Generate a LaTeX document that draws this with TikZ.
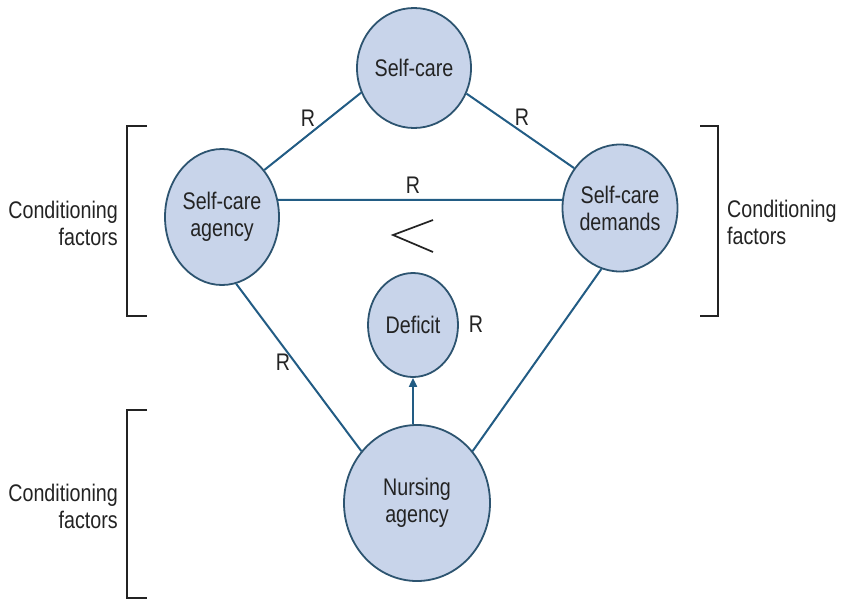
\documentclass[tikz,border=0pt]{standalone}
\usepackage{fontspec}
\setmainfont{Liberation Sans}[FakeStretch=0.82]
\usetikzlibrary{shapes.geometric,arrows.meta}
\definecolor{bubble}{RGB}{200,212,234}
\definecolor{rim}{RGB}{45,84,112}
\definecolor{link}{RGB}{34,92,132}
\definecolor{ink}{RGB}{35,35,35}
\begin{document}
\begin{tikzpicture}[x=1pt,y=-1pt,
  concept/.style={ellipse,draw=rim,line width=1.8pt,fill=bubble,inner sep=0pt,
    text=ink,align=center,font=\fontsize{24}{27}\selectfont},
  rel/.style={draw=link,line width=2pt},
  lbl/.style={text=ink,font=\fontsize{24}{27}\selectfont,inner sep=0pt},
  factor/.style={text=ink,font=\fontsize{24}{27}\selectfont,inner sep=0pt},
  brace/.style={draw=ink,line width=2.4pt}]
\useasboundingbox (0,0) rectangle (845,600);

% concepts
\node[concept,minimum width=114pt,minimum height=120pt] (selfcare) at (414,68) {Self-care};
\node[concept,minimum width=114pt,minimum height=136pt] (agency) at (222,217) {Self-care\\agency};
\node[concept,minimum width=115pt,minimum height=127pt] (demands) at (620,208) {Self-care\\demands};
\node[concept,minimum width=90pt,minimum height=104pt] (deficit) at (413,325) {Deficit};
\node[concept,minimum width=146pt,minimum height=156pt] (nursing) at (417,503) {Nursing\\agency};

% relations
\draw[rel] (agency.48) -- (selfcare.205);
\draw[rel] (selfcare.-26) -- (demands.139);
\draw[rel] (agency.17) -- (demands.172);
\draw[rel] (agency.-78) -- (nursing.137);
\draw[rel] (demands.-107) -- (nursing.43);
\draw[rel,-{Triangle[length=9pt,width=8pt]}] (deficit.south |- nursing.north) -- (deficit.south);

% R labels
\node[lbl] (r1) at (308,118) {R};
\node[lbl] (r2) at (522,117) {R};
\node[lbl] (r3) at (413,185) {R};
\node[lbl] (r4) at (283,362) {R};
\node[lbl] (r5) at (476,324) {R};

% less-than sign between agency and demands
\draw[ink,line width=1.7pt] (433,220) -- (393,235) -- (433,252);

% brackets
\draw[brace] (147,126) -- (127,126) -- (127,316) -- (147,316);
\draw[brace] (700,126) -- (718,126) -- (718,316) -- (700,316);
\draw[brace] (147,410) -- (127,410) -- (127,598) -- (147,598);

% conditioning factors
\node[factor,anchor=east,align=right] (cf1) at (118,223) {Conditioning\\factors};
\node[factor,anchor=west,align=left] (cf2) at (727,222) {Conditioning\\factors};
\node[factor,anchor=east,align=right] (cf3) at (118,506) {Conditioning\\factors};
\end{tikzpicture}
\end{document}
